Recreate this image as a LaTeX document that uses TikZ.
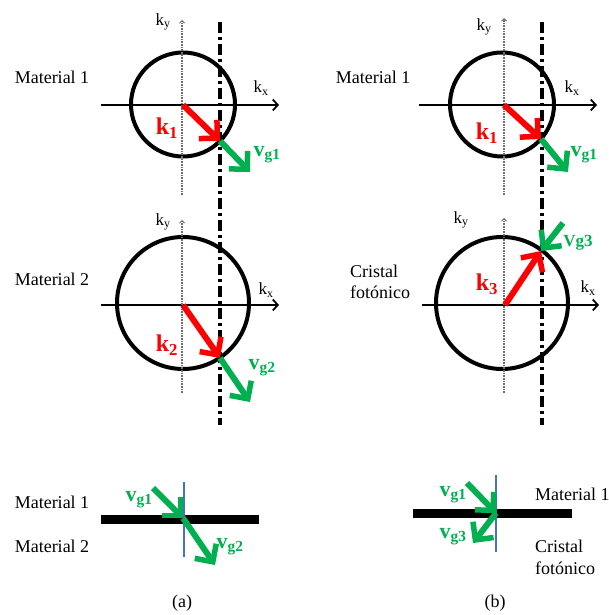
\documentclass[tikz,border=0pt]{standalone}
\usepackage{fontspec}
\setmainfont{Liberation Serif}
\usetikzlibrary{arrows.meta}
\definecolor{vred}{RGB}{255,0,0}
\definecolor{vgreen}{RGB}{0,176,80}
\definecolor{vblue}{RGB}{68,114,196}
\definecolor{axgray}{RGB}{110,110,110}
\newcommand\myfs[1]{\fontsize{#1}{#1}\selectfont}
\begin{document}
\begin{tikzpicture}[x=1pt,y=-1pt,
  circ/.style={line width=4pt},
  kxaxis/.style={line width=2pt,-{Straight Barb[length=5pt,width=11pt,line width=1.8pt]}},
  kyaxis/.style={axgray,line width=2.2pt,dash pattern=on 0.8pt off 0.8pt,-{Straight Barb[length=2.5pt,width=5pt,line width=1pt]}},
  dashdot/.style={line width=3.5pt,dash pattern=on 11pt off 4pt on 3pt off 4pt},
  kvec/.style={vred,line width=6pt,-{Straight Barb[length=13pt,width=26pt,line width=5.5pt]}},
  vvec/.style={vgreen,line width=6pt,-{Straight Barb[length=13pt,width=26pt,line width=5.5pt]}},
  lbl/.style={font=\myfs{18},inner sep=0pt},
  lbll/.style={font=\myfs{18},inner sep=0pt,anchor=west},
  axl/.style={font=\myfs{17},inner sep=0pt},
  kl/.style={font=\myfs{24}\bfseries,text=vred,inner sep=0pt},
  vl/.style={font=\myfs{22}\bfseries,text=vgreen,inner sep=0pt},
  bar/.style={line width=9pt},
  iface/.style={vblue,line width=1.5pt}]
\useasboundingbox (0,0) rectangle (609,615);

% ---------- panel (a) top ----------
\coordinate (aTc) at (183,104.5);
\coordinate (aTo) at (183,105);
\coordinate (aTxl) at (101,105);
\coordinate (aTxr) at (279,105);
\coordinate (aTyb) at (182,195);
\coordinate (aTyt) at (182,20);
\coordinate (aTp) at (220,141);
\coordinate (aTv) at (250,172);
\draw[circ] (aTc) circle[radius=52];
\draw[kxaxis] (aTxl) -- (aTxr);
\draw[kyaxis] (aTyb) -- (aTyt);
\node[axl] (aTkx) at (261,88) {k\textsubscript{x}};
\node[axl] (aTky) at (163,22) {k\textsubscript{y}};
\node[lbl] (aTm) at (52,77) {Material 1};

% ---------- panel (a) middle ----------
\coordinate (aMc) at (183,303);
\coordinate (aMo) at (183,305);
\coordinate (aMxl) at (101,305);
\coordinate (aMxr) at (279,305);
\coordinate (aMyb) at (182,393);
\coordinate (aMyt) at (182,220);
\coordinate (aMp) at (220,358);
\coordinate (aMv) at (250,402);
\draw[circ] (aMc) circle[radius=66];
\draw[kxaxis] (aMxl) -- (aMxr);
\draw[kyaxis] (aMyb) -- (aMyt);
\node[axl] (aMkx) at (266,290) {k\textsubscript{x}};
\node[axl] (aMky) at (163,222) {k\textsubscript{y}};
\node[lbl] (aMm) at (52,279) {Material 2};

% dash-dot line (a)
\coordinate (aDt) at (220,22);
\coordinate (aDb) at (220,425);
\draw[dashdot] (aDt) -- (aDb);

\draw[kvec] (aTo) -- (aTp);
\draw[vvec] (aTp) -- (aTv);
\node[kl] (aTk) at (167,128) {k\textsubscript{1}};
\node[vl] (aTvl) at (267,155) {v\textsubscript{g1}};

\draw[kvec] (aMo) -- (aMp);
\draw[vvec] (aMp) -- (aMv);
\node[kl] (aMk) at (167,345) {k\textsubscript{2}};
\node[vl] (aMvl) at (262,368) {v\textsubscript{g2}};

% ---------- panel (b) top ----------
\coordinate (bTc) at (502,104.5);
\coordinate (bTo) at (504,105);
\coordinate (bTxl) at (419,105);
\coordinate (bTxr) at (597,105);
\coordinate (bTyb) at (504,195);
\coordinate (bTyt) at (504,18);
\coordinate (bTp) at (541,139);
\coordinate (bTv) at (568,172);
\draw[circ] (bTc) circle[radius=52];
\draw[kxaxis] (bTxl) -- (bTxr);
\draw[kyaxis] (bTyb) -- (bTyt);
\node[axl] (bTkx) at (572,88) {k\textsubscript{x}};
\node[axl] (bTky) at (484,27) {k\textsubscript{y}};
\node[lbl] (bTm) at (373,77) {Material 1};

% ---------- panel (b) middle ----------
\coordinate (bMc) at (502,303);
\coordinate (bMo) at (505,305);
\coordinate (bMxl) at (422,305);
\coordinate (bMxr) at (599,305);
\coordinate (bMyb) at (504,393);
\coordinate (bMyt) at (504,218);
\coordinate (bMp) at (541,251);
\coordinate (bMv) at (563,223);
\draw[circ] (bMc) circle[radius=66];
\draw[kxaxis] (bMxl) -- (bMxr);
\draw[kyaxis] (bMyb) -- (bMyt);
\node[axl] (bMkx) at (588,288) {k\textsubscript{x}};
\node[axl] (bMky) at (461,220) {k\textsubscript{y}};
\node[lbll] (bMc1) at (350,271) {Cristal};
\node[lbll] (bMc2) at (350,292) {fotónico};

% dash-dot line (b)
\coordinate (bDt) at (542,22);
\coordinate (bDb) at (542,425);
\draw[dashdot] (bDt) -- (bDb);

\draw[kvec] (bTo) -- (bTp);
\draw[vvec] (bTp) -- (bTv);
\node[kl] (bTk) at (487,133) {k\textsubscript{1}};
\node[vl] (bTvl) at (584,155) {v\textsubscript{g1}};

\draw[kvec] (bMo) -- (bMp);
\draw[vvec] (bMv) -- (bMp);
\node[kl] (bMk) at (487,284) {k\textsubscript{3}};
\node[font=\myfs{17}\bfseries,text=vgreen,inner sep=0pt] (bMvl) at (578,243) {Vg3};

% ---------- bottom (a) ----------
\coordinate (aBl) at (101,519);
\coordinate (aBr) at (259,519);
\coordinate (aIt) at (184,482);
\coordinate (aIb) at (184,557);
\coordinate (aB1) at (153,488);
\coordinate (aBo) at (183,518);
\coordinate (aB2) at (215,565);
\draw[bar] (aBl) -- (aBr);
\draw[iface] (aIt) -- (aIb);
\draw[vvec] (aB1) -- (aBo);
\draw[vvec] (aBo) -- (aB2);
\node[vl] (aBv1) at (139,500) {v\textsubscript{g1}};
\node[vl] (aBv2) at (230,547) {v\textsubscript{g2}};
\node[lbl] (aBm1) at (52,502) {Material 1};
\node[lbl] (aBm2) at (52,546) {Material 2};
\node[lbl] (aCap) at (182,603) {(a)};

% ---------- bottom (b) ----------
\coordinate (bBl) at (413,513);
\coordinate (bBr) at (572,513);
\coordinate (bIt) at (496,475);
\coordinate (bIb) at (496,552);
\coordinate (bB1) at (467,483);
\coordinate (bBo) at (496,513);
\coordinate (bB3) at (473,543);
\draw[bar] (bBl) -- (bBr);
\draw[iface] (bIt) -- (bIb);
\draw[vvec] (bB1) -- (bBo);
\draw[vvec] (bBo) -- (bB3);
\node[vl] (bBv1) at (453,495) {v\textsubscript{g1}};
\node[vl] (bBv3) at (453,537) {v\textsubscript{g3}};
\node[lbll] (bBm1) at (535,494) {Material 1};
\node[lbll] (bBc1) at (535,546) {Cristal};
\node[lbll] (bBc2) at (535,568) {fotónico};
\node[lbl] (bCap) at (495,603) {(b)};
\end{tikzpicture}
\end{document}
